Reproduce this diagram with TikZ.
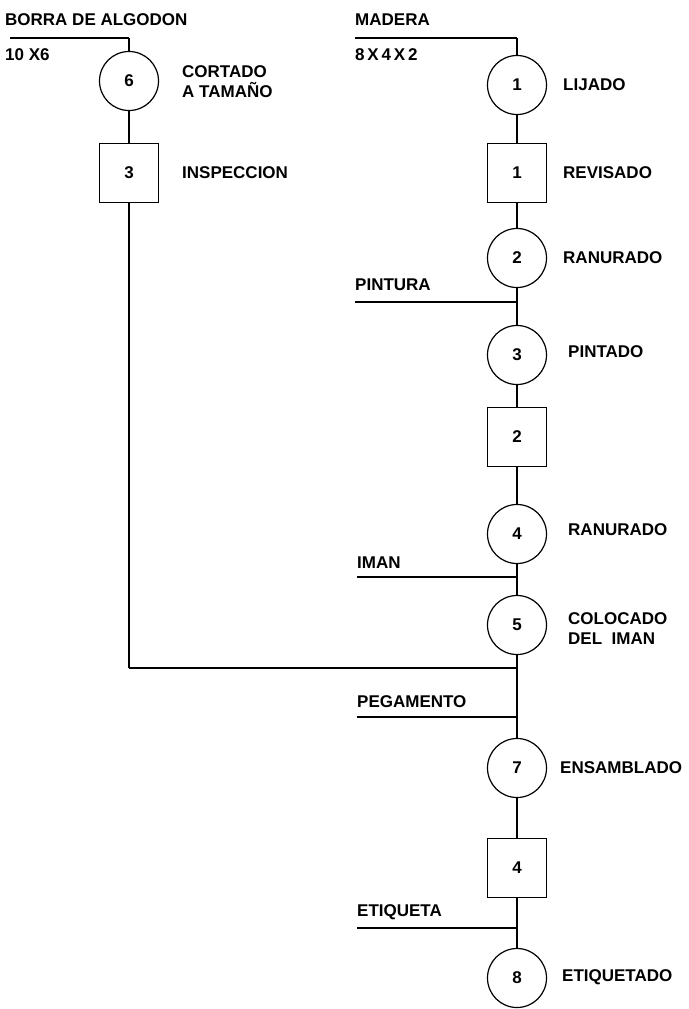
\documentclass[tikz,border=0pt]{standalone}
\usepackage{fontspec}
\setmainfont{Liberation Sans}
\begin{document}
\begin{tikzpicture}[x=1pt,y=-1pt,
  txt/.style={font=\fontsize{17}{20}\selectfont\bfseries},
  op/.style={circle,draw,line width=1.2pt,minimum size=59pt,inner sep=0pt,txt},
  insp/.style={rectangle,draw,line width=1.2pt,minimum size=59pt,inner sep=0pt,txt},
  lbl/.style={anchor=west,inner sep=0pt,align=left,txt},
  flow/.style={line width=2.8pt},
  feed/.style={line width=2pt}]
\useasboundingbox (0,0) rectangle (688,1009);
% left column
\node[op] (c6) at (129,81) {6};
\node[insp] (s3) at (129,173) {3};
% right column
\node[op] (c1) at (517,85) {1};
\node[insp] (s1) at (517,173) {1};
\node[op] (c2) at (517,258) {2};
\node[op] (c3) at (517,355) {3};
\node[insp] (s2) at (517,437) {2};
\node[op] (c4) at (517,534) {4};
\node[op] (c5) at (517,625) {5};
\node[op] (c7) at (517,768) {7};
\node[insp] (s4) at (517,868) {4};
\node[op] (c8) at (517,978) {8};
% coordinates
\coordinate (bstart) at (10,38);
\coordinate (bcorner) at (129,38);
\coordinate (mstart) at (355,38);
\coordinate (mcorner) at (517,38);
\coordinate (pstart) at (355,302);
\coordinate (pj) at (517,302);
\coordinate (istart) at (357,577);
\coordinate (ij) at (517,577);
\coordinate (lcorner) at (129,668);
\coordinate (lj) at (517,668);
\coordinate (gstart) at (357,717);
\coordinate (gj) at (517,717);
\coordinate (estart) at (357,928);
\coordinate (ej) at (517,928);
% feeds
\draw[feed] (bstart) -- (bcorner);
\draw[feed] (mstart) -- (mcorner);
\draw[feed] (pstart) -- (pj);
\draw[feed] (istart) -- (ij);
\draw[feed] (lcorner) -- (lj);
\draw[feed] (gstart) -- (gj);
\draw[feed] (estart) -- (ej);
% flows
\draw[flow] (bcorner) -- (c6);
\draw[flow] (c6) -- (s3);
\draw[flow] (s3) -- (lcorner);
\draw[flow] (mcorner) -- (c1);
\draw[flow] (c1) -- (s1);
\draw[flow] (s1) -- (c2);
\draw[flow] (c2) -- (c3);
\draw[flow] (c3) -- (s2);
\draw[flow] (s2) -- (c4);
\draw[flow] (c4) -- (c5);
\draw[flow] (c5) -- (c7);
\draw[flow] (c7) -- (s4);
\draw[flow] (s4) -- (c8);
% labels
\node[lbl] (tborra) at (5,20) {BORRA DE ALGODON};
\node[lbl] (tdim1) at (5,55) {10 X6};
\node[lbl] (tmadera) at (355,20) {MADERA};
\node[lbl] (tdim2) at (355,55) {8\,X\,4\,X\,2};
\node[lbl] (tcort) at (182,82) {CORTADO\\A TAMAÑO};
\node[lbl] (tinsp) at (182,173) {INSPECCION};
\node[lbl] (tlij) at (563,85) {LIJADO};
\node[lbl] (trev) at (563,173) {REVISADO};
\node[lbl] (tran1) at (563,258) {RANURADO};
\node[lbl] (tpint) at (355,285) {PINTURA};
\node[lbl] (tpintado) at (568,352) {PINTADO};
\node[lbl] (tran2) at (568,530) {RANURADO};
\node[lbl] (timan) at (357,563) {IMAN};
\node[lbl] (tcol) at (568,629) {COLOCADO\\DEL\ \ IMAN};
\node[lbl] (tpeg) at (357,702) {PEGAMENTO};
\node[lbl] (tens) at (560,768) {ENSAMBLADO};
\node[lbl] (teti) at (357,912) {ETIQUETA};
\node[lbl] (tetido) at (562,977) {ETIQUETADO};
\end{tikzpicture}
\end{document}
